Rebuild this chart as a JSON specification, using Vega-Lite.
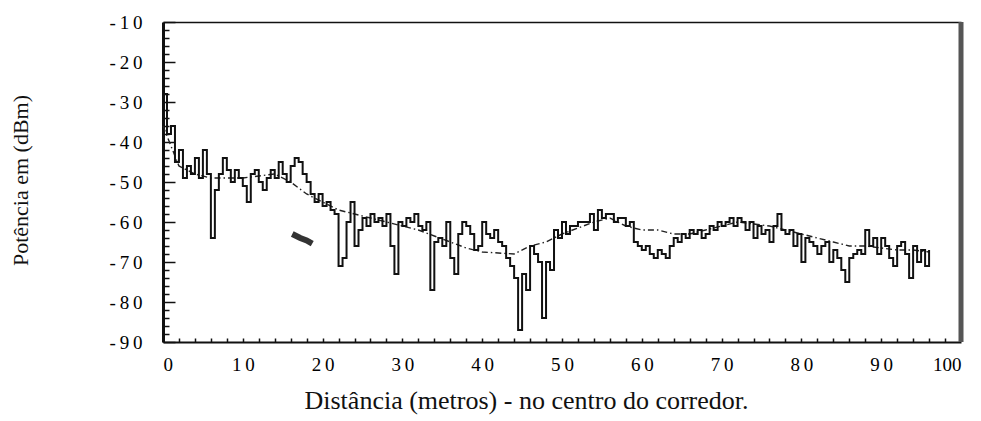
{
  "$schema": "https://vega.github.io/schema/vega-lite/v6.json",
  "width": 798,
  "height": 320,
  "autosize": "none",
  "padding": {"left": 163, "top": 22, "right": 20, "bottom": 79},
  "background": "white",
  "config": {
    "view": {"stroke": null},
    "font": "Liberation Serif",
    "axis": {"grid": false, "labelFont": "Liberation Serif", "titleFont": "Liberation Serif", "labelColor": "#000", "titleColor": "#111", "titleFontWeight": "normal"}
  },
  "datasets": {
    "medido": [
      {"d":0,"p":-28},{"d":0.5,"p":-38},{"d":1,"p":-36},{"d":1.5,"p":-45},{"d":2,"p":-42},{"d":2.5,"p":-49},{"d":3,"p":-46},{"d":3.5,"p":-48},{"d":4,"p":-44},{"d":4.5,"p":-49},
      {"d":5,"p":-42},{"d":5.5,"p":-48},{"d":6,"p":-64},{"d":6.5,"p":-52},{"d":7,"p":-48},{"d":7.5,"p":-44},{"d":8,"p":-47},{"d":8.5,"p":-50},{"d":9,"p":-47},{"d":9.5,"p":-49},
      {"d":10,"p":-51},{"d":10.5,"p":-55},{"d":11,"p":-48},{"d":11.5,"p":-47},{"d":12,"p":-50},{"d":12.5,"p":-52},{"d":13,"p":-49},{"d":13.5,"p":-47},{"d":14,"p":-49},{"d":14.5,"p":-45},
      {"d":15,"p":-48},{"d":15.5,"p":-50},{"d":16,"p":-46},{"d":16.5,"p":-44},{"d":17,"p":-45},{"d":17.5,"p":-48},{"d":18,"p":-50},{"d":18.5,"p":-53},{"d":19,"p":-55},{"d":19.5,"p":-53},
      {"d":20,"p":-56},{"d":20.5,"p":-55},{"d":21,"p":-57},{"d":21.5,"p":-58},{"d":22,"p":-71},{"d":22.5,"p":-69},{"d":23,"p":-60},{"d":23.5,"p":-55},{"d":24,"p":-66},{"d":24.5,"p":-62},
      {"d":25,"p":-59},{"d":25.5,"p":-61},{"d":26,"p":-58},{"d":26.5,"p":-60},{"d":27,"p":-59},{"d":27.5,"p":-61},{"d":28,"p":-58},{"d":28.5,"p":-66},{"d":29,"p":-73},{"d":29.5,"p":-60},
      {"d":30,"p":-61},{"d":30.5,"p":-59},{"d":31,"p":-60},{"d":31.5,"p":-58},{"d":32,"p":-61},{"d":32.5,"p":-62},{"d":33,"p":-60},{"d":33.5,"p":-77},{"d":34,"p":-65},{"d":34.5,"p":-64},
      {"d":35,"p":-66},{"d":35.5,"p":-60},{"d":36,"p":-69},{"d":36.5,"p":-73},{"d":37,"p":-63},{"d":37.5,"p":-60},{"d":38,"p":-61},{"d":38.5,"p":-63},{"d":39,"p":-67},{"d":39.5,"p":-66},
      {"d":40,"p":-60},{"d":40.5,"p":-63},{"d":41,"p":-64},{"d":41.5,"p":-62},{"d":42,"p":-65},{"d":42.5,"p":-66},{"d":43,"p":-69},{"d":43.5,"p":-71},{"d":44,"p":-74},{"d":44.5,"p":-87},
      {"d":45,"p":-73},{"d":45.5,"p":-77},{"d":46,"p":-66},{"d":46.5,"p":-68},{"d":47,"p":-70},{"d":47.5,"p":-84},{"d":48,"p":-70},{"d":48.5,"p":-72},{"d":49,"p":-62},{"d":49.5,"p":-64},
      {"d":50,"p":-60},{"d":50.5,"p":-63},{"d":51,"p":-61},{"d":51.5,"p":-61},{"d":52,"p":-60},{"d":52.5,"p":-60},{"d":53,"p":-60},{"d":53.5,"p":-58},{"d":54,"p":-62},{"d":54.5,"p":-57},
      {"d":55,"p":-59},{"d":55.5,"p":-58},{"d":56,"p":-58},{"d":56.5,"p":-60},{"d":57,"p":-59},{"d":57.5,"p":-59},{"d":58,"p":-61},{"d":58.5,"p":-60},{"d":59,"p":-65},{"d":59.5,"p":-66},
      {"d":60,"p":-67},{"d":60.5,"p":-66},{"d":61,"p":-68},{"d":61.5,"p":-69},{"d":62,"p":-67},{"d":62.5,"p":-68},{"d":63,"p":-69},{"d":63.5,"p":-66},{"d":64,"p":-64},{"d":64.5,"p":-65},
      {"d":65,"p":-63},{"d":65.5,"p":-64},{"d":66,"p":-62},{"d":66.5,"p":-63},{"d":67,"p":-62},{"d":67.5,"p":-64},{"d":68,"p":-63},{"d":68.5,"p":-61},{"d":69,"p":-62},{"d":69.5,"p":-60},
      {"d":70,"p":-61},{"d":70.5,"p":-60},{"d":71,"p":-59},{"d":71.5,"p":-61},{"d":72,"p":-59},{"d":72.5,"p":-60},{"d":73,"p":-62},{"d":73.5,"p":-60},{"d":74,"p":-64},{"d":74.5,"p":-61},
      {"d":75,"p":-63},{"d":75.5,"p":-62},{"d":76,"p":-65},{"d":76.5,"p":-61},{"d":77,"p":-58},{"d":77.5,"p":-62},{"d":78,"p":-63},{"d":78.5,"p":-62},{"d":79,"p":-66},{"d":79.5,"p":-63},
      {"d":80,"p":-70},{"d":80.5,"p":-64},{"d":81,"p":-65},{"d":81.5,"p":-66},{"d":82,"p":-68},{"d":82.5,"p":-66},{"d":83,"p":-65},{"d":83.5,"p":-70},{"d":84,"p":-67},{"d":84.5,"p":-69},
      {"d":85,"p":-72},{"d":85.5,"p":-75},{"d":86,"p":-69},{"d":86.5,"p":-68},{"d":87,"p":-67},{"d":87.5,"p":-68},{"d":88,"p":-62},{"d":88.5,"p":-66},{"d":89,"p":-64},{"d":89.5,"p":-68},
      {"d":90,"p":-64},{"d":90.5,"p":-66},{"d":91,"p":-69},{"d":91.5,"p":-71},{"d":92,"p":-66},{"d":92.5,"p":-65},{"d":93,"p":-68},{"d":93.5,"p":-74},{"d":94,"p":-66},{"d":94.5,"p":-70},
      {"d":95,"p":-67},{"d":95.5,"p":-71},{"d":96,"p":-67}
    ],
    "media": [
      {"d":0,"p":-36},{"d":2,"p":-46},{"d":4,"p":-48},{"d":6,"p":-49},{"d":8,"p":-49},{"d":10,"p":-49},{"d":12,"p":-48.5},{"d":14,"p":-48},{"d":16,"p":-50},{"d":18,"p":-53},
      {"d":20,"p":-55},{"d":22,"p":-57},{"d":24,"p":-58},{"d":26,"p":-59},{"d":28,"p":-60},{"d":30,"p":-61},{"d":32,"p":-62},{"d":34,"p":-63.5},{"d":36,"p":-65},{"d":38,"p":-66.5},
      {"d":40,"p":-67.5},{"d":44,"p":-68},{"d":46,"p":-66},{"d":48,"p":-65},{"d":50,"p":-63},{"d":52,"p":-61.5},{"d":54,"p":-60},{"d":56,"p":-59},{"d":58,"p":-61},{"d":60,"p":-62},
      {"d":62,"p":-62},{"d":64,"p":-63},{"d":66,"p":-63},{"d":68,"p":-62},{"d":70,"p":-61},{"d":72,"p":-60},{"d":74,"p":-60.5},{"d":76,"p":-61},{"d":78,"p":-62},{"d":80,"p":-63},
      {"d":82,"p":-64},{"d":84,"p":-65},{"d":86,"p":-66},{"d":88,"p":-66},{"d":90,"p":-66.5},{"d":92,"p":-67},{"d":94,"p":-67},{"d":96,"p":-67.5}
    ],
    "fragmento": [
      {"d":16.2,"p":-63},{"d":17.2,"p":-64},{"d":18.0,"p":-64.6},{"d":18.7,"p":-65.4}
    ],
    "borda": [{"d":100,"p":-90},{"d":100,"p":-10}]
  },
  "resolve": {"axis": {"x": "independent", "y": "independent"}},
  "layer": [
    {
      "data": {"name": "media"},
      "mark": {"type": "line", "color": "#222", "strokeWidth": 1.4, "strokeDash": [6, 3, 1.5, 3]},
      "encoding": {
        "x": {"field": "d", "type": "quantitative", "scale": {"domain": [0, 100], "nice": false},
          "axis": {"orient": "bottom", "values": [0,10,20,30,40,50,60,70,80,90,100], "ticks": false, "domain": true, "domainColor": "#111", "domainWidth": 2, "labelFontSize": 19, "labelPadding": 13,
            "labelExpr": "datum.value == 100 ? datum.label : join(split(datum.label, ''), '\u2009')",
            "title": "Distância (metros) - no centro do corredor.", "titleFontSize": 26, "titlePadding": 13, "titleX": 363}},
        "y": {"field": "p", "type": "quantitative", "scale": {"domain": [-90, -10], "nice": false},
          "axis": {"orient": "left", "values": [-90,-80,-70,-60,-50,-40,-30,-20,-10], "ticks": false, "domain": true, "domainColor": "#111", "domainWidth": 3, "labelFontSize": 19, "labelPadding": 21,
            "labelExpr": "join(split(replace(datum.label, '\u2212', '-'), ''), '\u2009')",
            "title": "Potência em (dBm)", "titleFontSize": 22, "titleX": -131, "titleY": 158, "titleAngle": 270}}
      }
    },
    {
      "data": {"name": "medido"},
      "mark": {"type": "line", "interpolate": "step-after", "color": "#111", "strokeWidth": 2},
      "encoding": {
        "x": {"field": "d", "type": "quantitative", "axis": {"orient": "bottom", "values": [0,2,4,6,8,10,12,14,16,18,20,22,24,26,28,30,32,34,36,38,40,42,44,46,48,50,52,54,56,58,60,62,64,66,68,70,72,74,76,78,80,82,84,86,88,90,92,94,96,98], "labels": false, "domain": false, "tickSize": -4, "tickWidth": 1.5, "tickColor": "#111", "title": null}},
        "y": {"field": "p", "type": "quantitative", "axis": {"orient": "left", "values": [-90,-80,-70,-60,-50,-40,-30,-20,-10], "labels": false, "domain": false, "tickSize": -12, "tickWidth": 1.5, "tickColor": "#111", "title": null}}
      }
    },
    {
      "data": {"name": "fragmento"},
      "mark": {"type": "line", "color": "#333", "strokeWidth": 6, "strokeCap": "butt"},
      "encoding": {
        "x": {"field": "d", "type": "quantitative", "axis": {"orient": "top", "labels": false, "ticks": false, "domain": true, "domainColor": "#111", "domainWidth": 1.5, "title": null}},
        "y": {"field": "p", "type": "quantitative", "axis": {"orient": "left", "values": [-88,-86,-84,-82,-78,-76,-74,-72,-68,-66,-64,-62,-58,-56,-54,-52,-48,-46,-44,-42,-38,-36,-34,-32,-28,-26,-24,-22,-18,-16,-14,-12], "labels": false, "domain": false, "tickSize": -6, "tickWidth": 1.5, "tickColor": "#111", "title": null}}
      }
    },
    {
      "data": {"name": "borda"},
      "mark": {"type": "rule", "color": "#555", "strokeWidth": 5},
      "encoding": {
        "x": {"field": "d", "type": "quantitative", "axis": null},
        "y": {"field": "p", "type": "quantitative", "axis": null}
      }
    }
  ]
}
